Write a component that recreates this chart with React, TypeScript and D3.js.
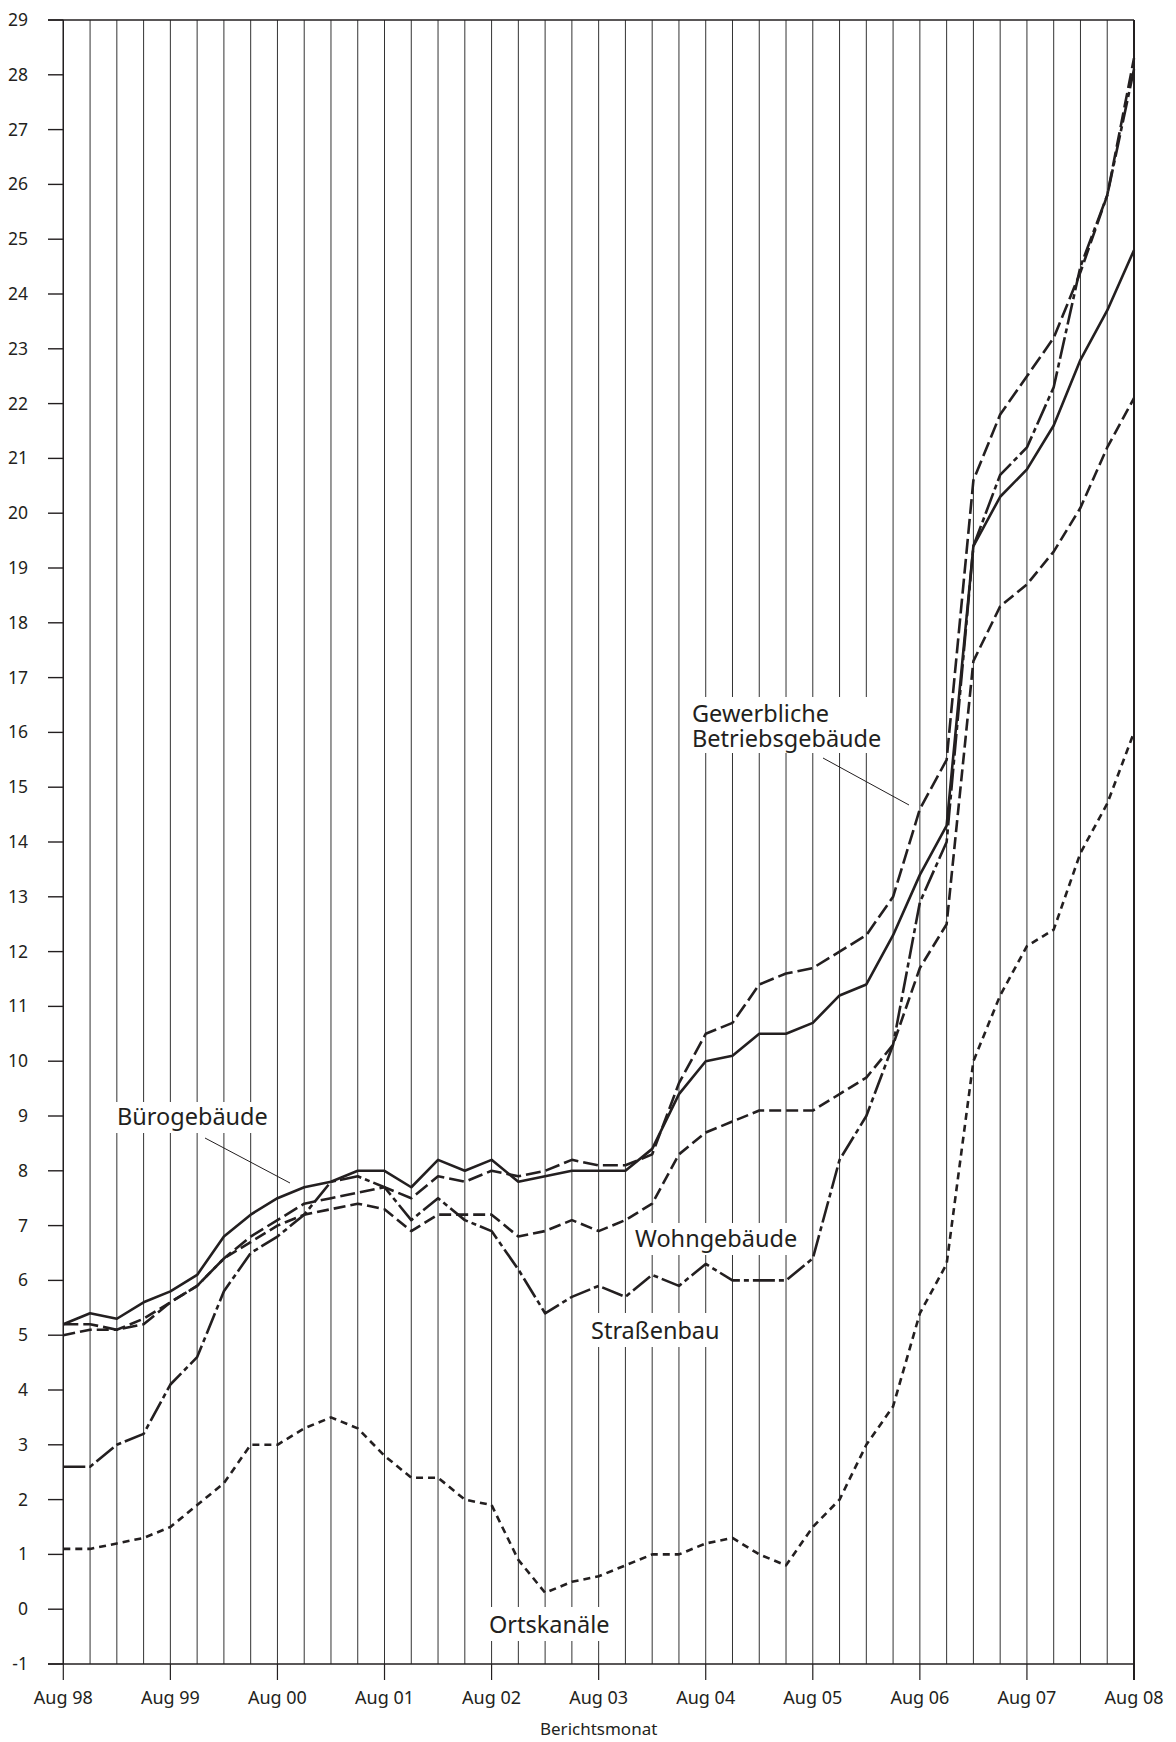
import React from 'react'
import * as d3 from 'd3'

// quarterly reporting months, Aug 98 .. Aug 08
const quarters = [
  'Aug 98', 'Nov 98', 'Feb 99', 'Mai 99', 'Aug 99', 'Nov 99', 'Feb 00', 'Mai 00',
  'Aug 00', 'Nov 00', 'Feb 01', 'Mai 01', 'Aug 01', 'Nov 01', 'Feb 02', 'Mai 02',
  'Aug 02', 'Nov 02', 'Feb 03', 'Mai 03', 'Aug 03', 'Nov 03', 'Feb 04', 'Mai 04',
  'Aug 04', 'Nov 04', 'Feb 05', 'Mai 05', 'Aug 05', 'Nov 05', 'Feb 06', 'Mai 06',
  'Aug 06', 'Nov 06', 'Feb 07', 'Mai 07', 'Aug 07', 'Nov 07', 'Feb 08', 'Mai 08',
  'Aug 08',
]
const yearTicks = [
  'Aug 98', 'Aug 99', 'Aug 00', 'Aug 01', 'Aug 02', 'Aug 03',
  'Aug 04', 'Aug 05', 'Aug 06', 'Aug 07', 'Aug 08',
]

const gewerbliche = [
  5.2, 5.2, 5.1, 5.2, 5.6, 5.9, 6.4, 6.8, 7.1, 7.4, 7.5, 7.6, 7.7, 7.5, 7.9, 7.8,
  8.0, 7.9, 8.0, 8.2, 8.1, 8.1, 8.3, 9.6, 10.5, 10.7, 11.4, 11.6, 11.7, 12.0, 12.3, 13.0,
  14.6, 15.5, 20.6, 21.8, 22.5, 23.2, 24.4, 25.8, 28.3,
]
const buero = [
  5.2, 5.4, 5.3, 5.6, 5.8, 6.1, 6.8, 7.2, 7.5, 7.7, 7.8, 8.0, 8.0, 7.7, 8.2, 8.0,
  8.2, 7.8, 7.9, 8.0, 8.0, 8.0, 8.4, 9.4, 10.0, 10.1, 10.5, 10.5, 10.7, 11.2, 11.4, 12.3,
  13.4, 14.3, 19.4, 20.3, 20.8, 21.6, 22.8, 23.7, 24.8,
]
const wohn = [
  5.0, 5.1, 5.1, 5.3, 5.6, 5.9, 6.4, 6.7, 7.0, 7.2, 7.3, 7.4, 7.3, 6.9, 7.2, 7.2,
  7.2, 6.8, 6.9, 7.1, 6.9, 7.1, 7.4, 8.3, 8.7, 8.9, 9.1, 9.1, 9.1, 9.4, 9.7, 10.3,
  11.7, 12.5, 17.3, 18.3, 18.7, 19.3, 20.1, 21.2, 22.1,
]
const strassen = [
  2.6, 2.6, 3.0, 3.2, 4.1, 4.6, 5.8, 6.5, 6.8, 7.2, 7.8, 7.9, 7.7, 7.1, 7.5, 7.1,
  6.9, 6.2, 5.4, 5.7, 5.9, 5.7, 6.1, 5.9, 6.3, 6.0, 6.0, 6.0, 6.4, 8.2, 9.0, 10.3,
  12.9, 14.0, 19.4, 20.7, 21.2, 22.3, 24.5, 25.8, 28.1,
]
const orts = [
  1.1, 1.1, 1.2, 1.3, 1.5, 1.9, 2.3, 3.0, 3.0, 3.3, 3.5, 3.3, 2.8, 2.4, 2.4, 2.0,
  1.9, 0.9, 0.3, 0.5, 0.6, 0.8, 1.0, 1.0, 1.2, 1.3, 1.0, 0.8, 1.5, 2.0, 3.0, 3.7,
  5.4, 6.3, 10.0, 11.2, 12.1, 12.4, 13.8, 14.7, 16.0,
]

const series = [
  { key: 'orts', values: orts, dash: '7 5' },
  { key: 'wohn', values: wohn, dash: '12 5' },
  { key: 'strassen', values: strassen, dash: '22 4 5 4' },
  { key: 'buero', values: buero, dash: '' },
  { key: 'gewerbliche', values: gewerbliche, dash: '15 5' },
]

const INK = '#231f20'
const FONT = '"Noto Sans", "Open Sans", sans-serif'

export default function App() {
  const width = 1176
  const height = 1742
  const left = 63.3
  const right = 1134
  const top = 20
  const bottom = 1664

  const x = d3.scalePoint<string>().domain(quarters).range([left, right])
  const y = d3.scaleLinear().domain([-1, 29]).range([bottom, top])
  const yTicks = d3.range(-1, 30)

  const line = d3
    .line<number>()
    .x((_, i) => x(quarters[i]) as number)
    .y((d) => y(d))

  return (
    <div style={{ position: 'absolute', left: 0, top: 0 }}>
      <svg width={width} height={height} style={{ display: 'block', background: '#fff' }}>
        {/* quarterly grid */}
        {quarters.map((q) => (
          <line
            key={`g-${q}`}
            x1={x(q)}
            x2={x(q)}
            y1={top}
            y2={bottom}
            stroke="#333"
            strokeWidth={1}
          />
        ))}

        {/* frame */}
        <line x1={48} x2={right} y1={top} y2={top} stroke={INK} strokeWidth={1.4} />
        <line x1={48} x2={right} y1={bottom} y2={bottom} stroke={INK} strokeWidth={1.4} />
        <line x1={left} x2={left} y1={top} y2={bottom} stroke={INK} strokeWidth={1.4} />
        <line x1={right} x2={right} y1={top} y2={bottom + 16} stroke={INK} strokeWidth={2} />

        {/* y axis */}
        {yTicks.map((t) => (
          <g key={`y-${t}`}>
            <line x1={48} x2={left} y1={y(t)} y2={y(t)} stroke={INK} strokeWidth={1.4} />
            <text
              x={28}
              y={y(t) + 6}
              textAnchor="end"
              fontFamily={FONT}
              fontSize={17.5}
              fill={INK}
            >
              {t}
            </text>
          </g>
        ))}

        {/* x axis */}
        {yearTicks.map((t) => (
          <g key={`x-${t}`}>
            <line
              x1={x(t)}
              x2={x(t)}
              y1={bottom}
              y2={bottom + 16}
              stroke={INK}
              strokeWidth={1.2}
            />
            <text
              x={x(t)}
              y={bottom + 40}
              textAnchor="middle"
              fontFamily={FONT}
              fontSize={18}
              fill={INK}
            >
              {t}
            </text>
          </g>
        ))}
        <text
          x={(left + right) / 2}
          y={bottom + 71}
          textAnchor="middle"
          fontFamily={FONT}
          fontSize={17}
          fill={INK}
        >
          Berichtsmonat
        </text>

        {/* label boxes */}
        <rect x={116} y={1102} width={157} height={31} fill="#fff" />
        <rect x={685} y={697} width={200} height={56} fill="#fff" />
        <rect x={632} y={1223} width={172} height={32} fill="#fff" />
        <rect x={586} y={1313} width={138} height={34} fill="#fff" />
        <rect x={482} y={1607} width={134} height={34} fill="#fff" />

        {/* series */}
        {series.map((s) => (
          <path
            key={s.key}
            d={line(s.values) || ''}
            fill="none"
            stroke={INK}
            strokeWidth={2.6}
            strokeDasharray={s.dash || undefined}
            strokeLinejoin="round"
          />
        ))}

        {/* labels */}
        <g fontFamily={FONT} fontSize={23.5} fill={INK}>
          <text x={117} y={1125}>Bürogebäude</text>
          <text x={692} y={722}>
            <tspan x={692}>Gewerbliche</tspan>
            <tspan x={692} dy={25}>Betriebsgebäude</tspan>
          </text>
          <text x={635} y={1247}>Wohngebäude</text>
          <text x={591} y={1339}>Straßenbau</text>
          <text x={489} y={1633}>Ortskanäle</text>
        </g>
        <line x1={205} y1={1138} x2={290} y2={1183} stroke={INK} strokeWidth={1} />
        <line x1={823} y1={758} x2={909} y2={805} stroke={INK} strokeWidth={1} />
      </svg>
    </div>
  )
}
